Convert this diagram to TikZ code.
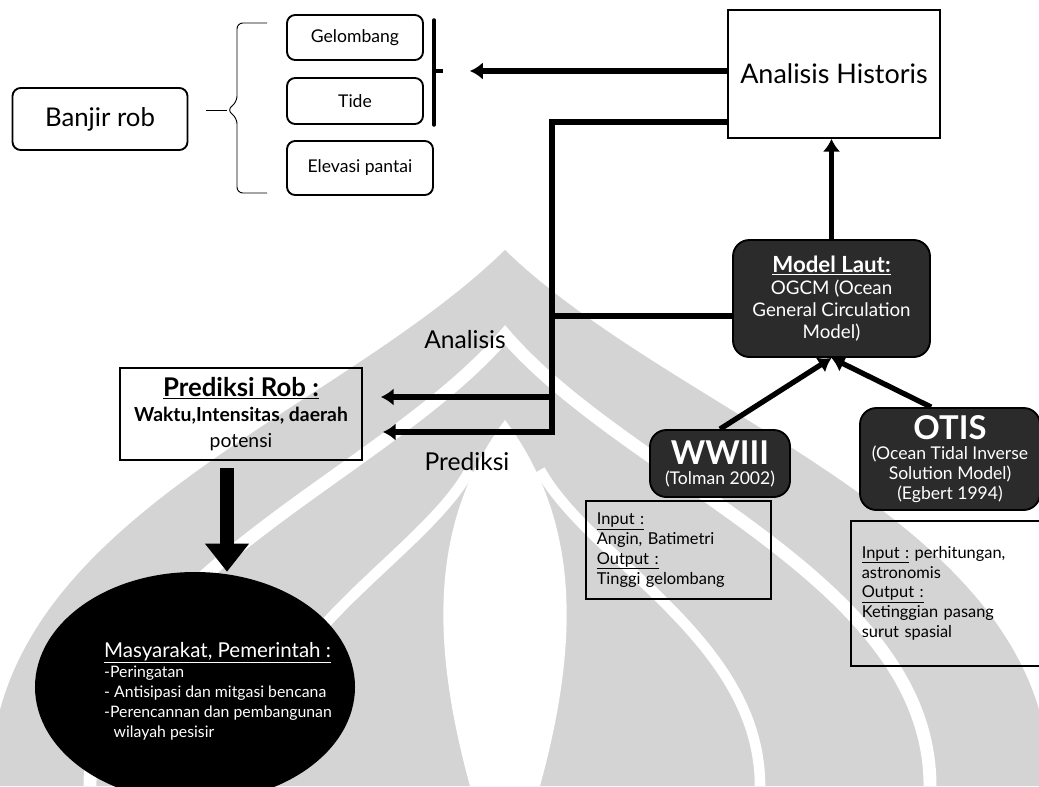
\documentclass[tikz,border=0pt]{standalone}
\usepackage{fontspec}
\setmainfont{Lato}
\usetikzlibrary{arrows.meta,positioning,shapes.geometric,calc}
\definecolor{boxdark}{HTML}{2B2B2B}
\definecolor{markgray}{HTML}{D4D4D4}

\begin{document}
\begin{tikzpicture}[x=0.03cm,y=-0.03cm,
    rbox/.style={draw,line width=1.6pt,rounded corners=7pt,inner sep=0pt,align=center},
    sbox/.style={draw,line width=1.4pt,inner sep=0pt,align=center},
    darkbox/.style={draw,line width=1.6pt,fill=boxdark,rounded corners=14pt,text=white,inner sep=0pt,align=center},
    infobox/.style={draw,line width=1.4pt,anchor=north west,inner xsep=0.33cm,inner ysep=0pt,align=left,font=\fontsize{14}{17}\selectfont},
    heavy/.style={line width=4.5pt,line join=miter},
    arrowed/.style={-{Latex[length=11pt,width=15pt]}},
  ]
  \useasboundingbox (0,0) rectangle (1039,786);

  % watermark in the background
  \fill[markgray] (-10,786) .. controls (-10,520) and (330,420) .. (505,250)
    .. controls (680,420) and (1050,520) .. (1050,786) -- cycle;
  \draw[white,line width=11pt] (90,786) .. controls (90,580) and (380,480) .. (505,335)
    .. controls (630,480) and (930,580) .. (930,786);
  \fill[white] (505,420) .. controls (430,520) and (430,640) .. (470,786)
    -- (540,786) .. controls (580,640) and (580,520) .. (505,420) -- cycle;
  \draw[white,line width=9pt] (250,786) .. controls (250,640) and (420,560) .. (470,470);
  \draw[white,line width=9pt] (760,786) .. controls (760,640) and (590,560) .. (540,470);

  % left part
  \node[rbox,minimum width=5.25cm,minimum height=1.86cm,font=\fontsize{22}{26}\selectfont] (banjir) at (100,119) {Banjir rob};
  \node[rbox,minimum width=4.08cm,minimum height=1.35cm,font=\fontsize{15}{18}\selectfont] (gel) at (355,37.5) {Gelombang};
  \node[rbox,minimum width=4.08cm,minimum height=1.38cm,font=\fontsize{15}{18}\selectfont] (tide) at (355,101) {Tide};
  \node[rbox,minimum width=4.38cm,minimum height=1.62cm,font=\fontsize{15}{18}\selectfont] (elev) at (360,168) {Elevasi pantai};

  \coordinate (bracetip) at (227,110);
  \draw[line width=0.8pt] ($(banjir.east |- bracetip)+(18,0)$) -- (bracetip);
  \draw[line width=0.8pt,rounded corners=5pt] (267,23) -- (237,23) -- (237,102) -- (bracetip)
    -- (237,118) -- (237,193) -- (267,193);

  \coordinate (bartop) at (434,20);
  \coordinate (barbot) at (434,125);
  \coordinate (barmid) at (434,71);
  \coordinate (histin) at (470,71);
  \draw[line width=3pt,line cap=round] (bartop) -- (barbot);
  \draw[line width=3pt] (barmid) -- ++(9,0);

  % right part
  \node[sbox,minimum width=6.36cm,minimum height=3.84cm,font=\fontsize{23}{26}\selectfont] (hist) at (834,74) {Analisis Historis};
  \node[darkbox,minimum width=5.91cm,minimum height=3.51cm,font=\fontsize{16}{19}\selectfont] (model) at (831.5,298.5)
    {{\fontsize{19}{20}\selectfont\textbf{\underline{Model Laut:}}}\\ OGCM (Ocean\\ General Circulation\\ Model)};
  \node[darkbox,minimum width=4.2cm,minimum height=2.01cm,font=\fontsize{15}{17}\selectfont] (wave) at (720,463.5)
    {{\fontsize{28}{28}\selectfont\textbf{WWIII}}\\ (Tolman 2002)};
  \node[darkbox,minimum width=5.4cm,minimum height=3.06cm,font=\fontsize{15}{17}\selectfont] (otis) at (950,459)
    {{\fontsize{28}{28}\selectfont\textbf{OTIS}}\\ (Ocean Tidal Inverse\\ Solution Model)\\ (Egbert 1994)};
  \node[infobox,text width=4.89cm,minimum height=2.94cm] (waveIO) at (585,500)
    {\underline{Input :}\\ Angin, Batimetri\\ \underline{Output :}\\ Tinggi gelombang};
  \node[infobox,text width=5.19cm,minimum height=4.35cm] (otisIO) at (850,520)
    {\underline{Input :} perhitungan,\\ astronomis\\ \underline{Output :}\\ Ketinggian pasang\\ surut spasial};

  % prediction and users
  \node[sbox,minimum width=7.26cm,minimum height=2.76cm,font=\fontsize{16.5}{22}\selectfont] (pred) at (241,414)
    {{\fontsize{22}{22}\selectfont\underline{\textbf{Prediksi Rob :}}}\\ \textbf{Waktu,Intensitas, daerah}\\ potensi};
  \node[ellipse,fill=black,minimum width=9.6cm,minimum height=6.9cm,inner sep=0pt] (mas) at (195,687) {};
  \node[anchor=north west,text=white,align=left,inner sep=0pt,font=\fontsize{13.5}{17}\selectfont] (masText) at (104,642)
    {{\fontsize{17.5}{20}\selectfont\underline{Masyarakat, Pemerintah :}}\\ -Peringatan\\ - Antisipasi dan mitgasi bencana\\
     -Perencannan dan pembangunan\\ \hspace{0.6em}wilayah pesisir};

  \node[font=\fontsize{21}{24}\selectfont] (lblAna) at (465,340) {Analisis};
  \node[font=\fontsize{21}{24}\selectfont] (lblPre) at (467,462) {Prediksi};

  % connectors
  \coordinate (jtop) at (552,122);
  \coordinate (jmid) at (552,316);
  \coordinate (jana) at (552,397);
  \coordinate (jpre) at (552,432);
  \draw[heavy,arrowed] (hist.west |- histin) -- (histin);
  \draw[heavy,arrowed] (hist.west |- jtop) -- (jtop) -- (jpre) -- ($(pred.east |- jpre)+(20,0)$);
  \draw[heavy] (model.west |- jmid) -- (jmid);
  \draw[heavy,arrowed] (jana) -- ($(pred.east |- jana)+(18,0)$);
  \draw[heavy,arrowed] (model.north) -- (model.north |- hist.south);
  \draw[heavy,arrowed] (wave.north) -- (model.south);
  \draw[heavy,arrowed] (otis.110) -- (model.south);

  \coordinate (dtop) at (227,468);
  \coordinate (dbot) at (dtop |- mas.north);
  \draw[line width=12pt,-{Triangle[length=24pt,width=36pt]}] (dtop) -- (dbot);
\end{tikzpicture}
\end{document}
